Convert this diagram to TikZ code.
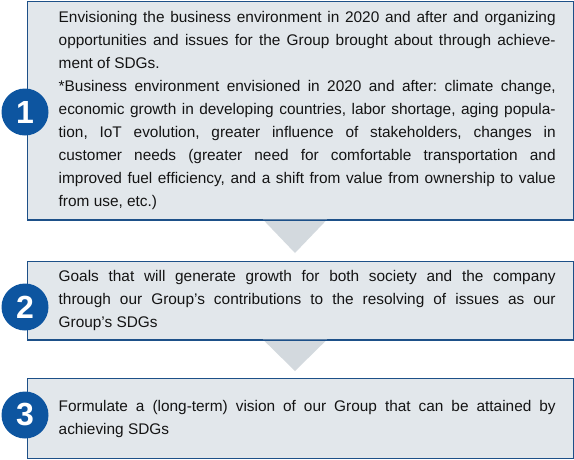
\documentclass[tikz,border=0pt]{standalone}
\usepackage{fontspec}
\setmainfont{Liberation Sans}
\definecolor{boxfill}{HTML}{E2E7EB}
\definecolor{boxline}{HTML}{1D5088}
\definecolor{arrowfill}{HTML}{D3D9DE}
\definecolor{numblue}{HTML}{0D55A0}
\newcommand{\boxtextfont}{\fontsize{15.4}{23}\selectfont\frenchspacing}
\newcommand{\jline}[1]{\hbox to 497pt{#1}}
\newcommand{\lline}[1]{\hbox{#1}}
\begin{document}
\begin{tikzpicture}[x=1pt,y=-1pt,
  box/.style={draw=boxline, line width=1.2pt, fill=boxfill, rectangle, anchor=north west, inner sep=0pt},
  txt/.style={anchor=west, inner sep=0pt, font=\boxtextfont, text=black!92},
  num/.style={circle, fill=numblue, minimum size=47pt, inner sep=0pt, text=white,
    font=\fontsize{32}{32}\selectfont\bfseries},
  tri/.style={fill=arrowfill, draw=none}]
\useasboundingbox (0,0) rectangle (574,459);
% boxes
\node[box, minimum width=546pt, minimum height=218pt] (b1) at (27,1) {};
\node[box, minimum width=546pt, minimum height=78pt] (b2) at (27,261) {};
\node[box, minimum width=546pt, minimum height=80pt] (b3) at (27,378) {};
% arrows
\coordinate (a1l) at (263,219.6);
\coordinate (a1r) at (327,219.6);
\coordinate (a1t) at (295,253);
\coordinate (a2l) at (263,339.6);
\coordinate (a2r) at (327,339.6);
\coordinate (a2t) at (295,371);
\fill[tri] (a1l) -- (a1r) -- (a1t) -- cycle;
\fill[tri] (a2l) -- (a2r) -- (a2t) -- cycle;
\draw[boxline, line width=1.2pt] (b1.south west) -- (b1.south east);
\draw[boxline, line width=1.2pt] (b2.south west) -- (b2.south east);
% texts
\node[txt] (t1) at ([xshift=31.5pt]b1.west) {\vbox{%
\jline{Envisioning the business environment in 2020 and after and organizing}
\jline{opportunities and issues for the Group brought about through achieve-}
\lline{ment of SDGs.}
\jline{*Business environment envisioned in 2020 and after: climate change,}
\jline{economic growth in developing countries, labor shortage, aging popula-}
\jline{tion, IoT evolution, greater influence of stakeholders, changes in}
\jline{customer needs (greater need for comfortable transportation and}
\jline{improved fuel efficiency, and a shift from value from ownership to value}
\lline{from use, etc.)}}};
\node[txt] (t2) at ([xshift=31.5pt]b2.west) {\vbox{%
\jline{Goals that will generate growth for both society and the company}
\jline{through our Group’s contributions to the resolving of issues as our}
\lline{Group’s SDGs}}};
\node[txt] (t3) at ([xshift=31.5pt]b3.west) {\vbox{%
\jline{Formulate a (long-term) vision of our Group that can be attained by}
\lline{achieving SDGs}}};
% numbers
\node[num] (n1) at (25,112) {1};
\node[num] (n2) at (25,307) {2};
\node[num] (n3) at (25,415) {3};
\end{tikzpicture}
\end{document}
